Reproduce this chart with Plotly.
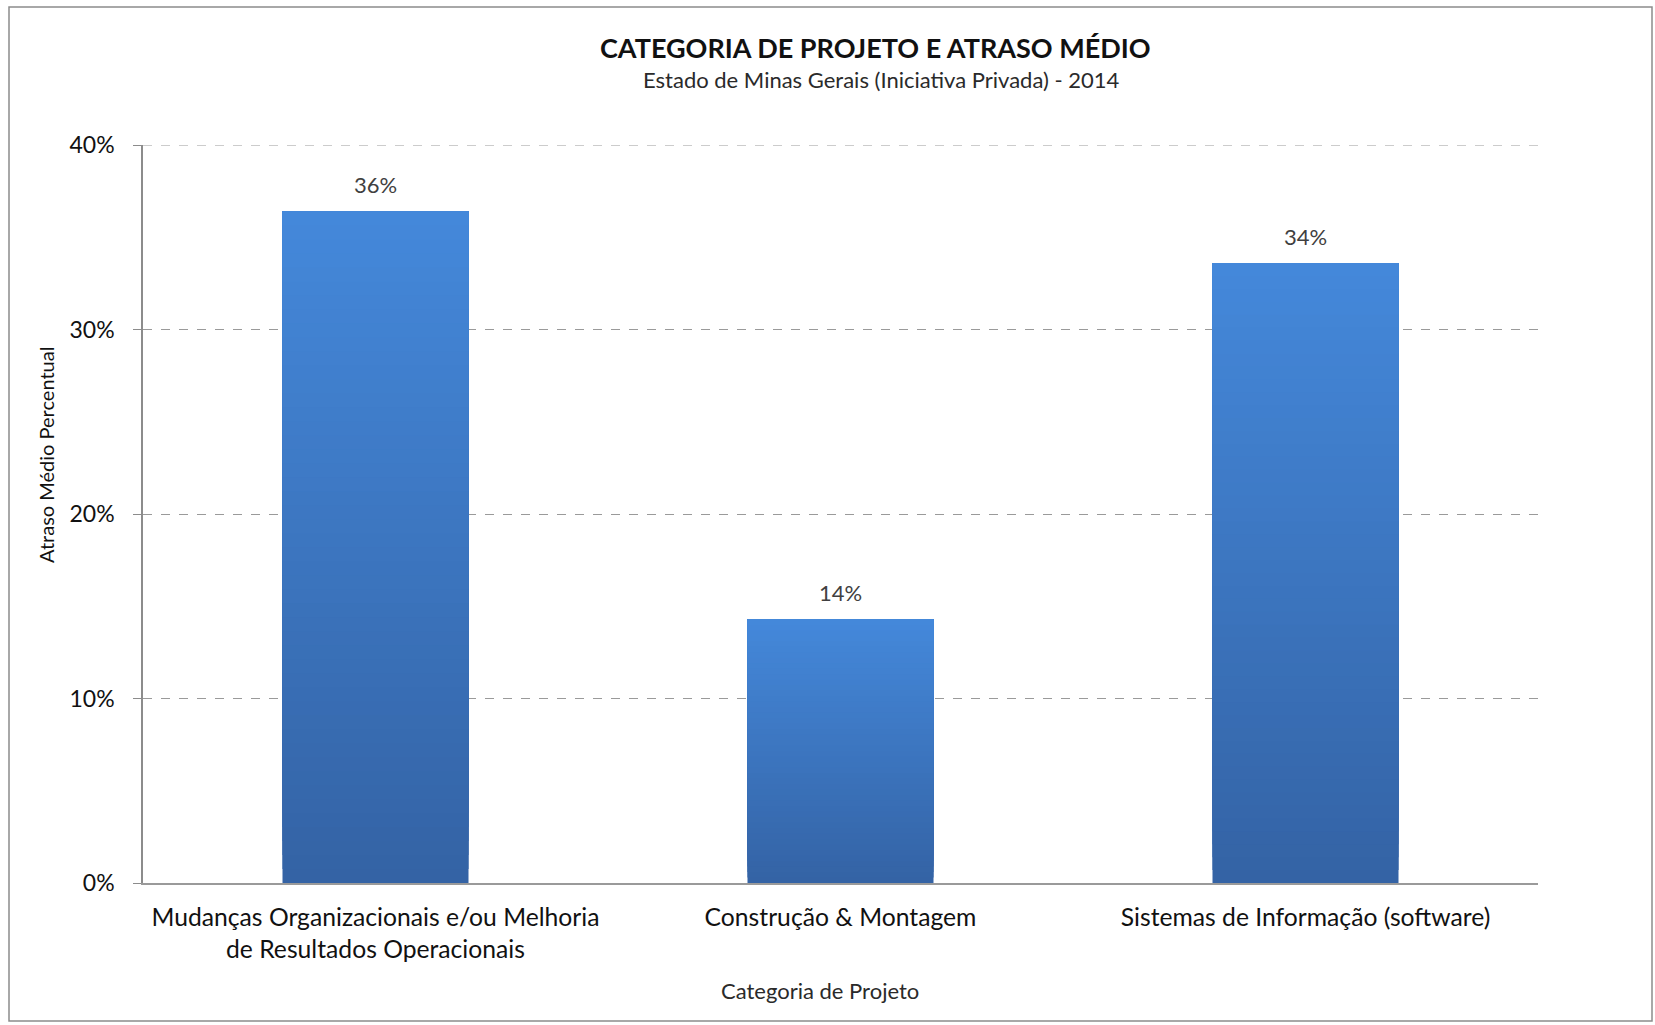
import plotly.graph_objects as go

categories = [
    "Mudanças Organizacionais e/ou Melhoria<br>de Resultados Operacionais",
    "Construção & Montagem",
    "Sistemas de Informação (software)",
]
values = [0.364, 0.143, 0.336]
value_labels = ["36%", "14%", "34%"]
y_ticks = [0, 0.1, 0.2, 0.3, 0.4]
y_tick_labels = ["0%", "10%", "20%", "30%", "40%"]

FONT = "Lato"
W, H = 1655, 1025
L, R, T, B = 143, 117, 145, 142
pw, ph = W - L - R, H - T - B

BOTTOM_RGB = (0x34, 0x63, 0xA5)
TOP_RGB = (0x44, 0x88, 0xDA)
N_SEG = 48

fig = go.Figure()

# gradient fill: overlapping layers, each from a fraction of the bar up to its top
for k in range(N_SEG):
    f = k / (N_SEG - 1)
    col = "rgb({},{},{})".format(*[round(b + (t - b) * f) for b, t in zip(BOTTOM_RGB, TOP_RGB)])
    fig.add_trace(go.Bar(
        x=categories,
        y=[v * (N_SEG - k) / N_SEG for v in values],
        base=[v * k / N_SEG for v in values],
        width=0.4,
        marker=dict(color=col, line=dict(width=0)),
        hoverinfo="skip",
    ))

# full bar (transparent, carries hover)
fig.add_trace(go.Bar(
    x=categories, y=values, width=0.4,
    marker=dict(color="rgba(0,0,0,0)", line=dict(width=0)),
    hovertemplate="%{x}: %{y:.0%}<extra></extra>",
))

annotations = []
for c, v, lab in zip(categories, values, value_labels):
    annotations.append(dict(x=c, y=v, text=lab, showarrow=False, yshift=27,
                            xanchor="center", yanchor="middle",
                            font=dict(family=FONT, size=22, color="#404040")))

def px_x(px):
    return (px - L) / pw

def px_y(py):
    return (H - B - py) / ph

annotations += [
    dict(xref="paper", yref="paper", x=px_x(875), y=px_y(47), xanchor="center", yanchor="middle",
         text="<b>CATEGORIA DE PROJETO E ATRASO MÉDIO</b>",
         showarrow=False, font=dict(family=FONT, size=27, color="#111111")),
    dict(xref="paper", yref="paper", x=px_x(881), y=px_y(79), xanchor="center", yanchor="middle",
         text="Estado de Minas Gerais (Iniciativa Privada) - 2014",
         showarrow=False, font=dict(family=FONT, size=22, color="#2A2A2A")),
    dict(xref="paper", yref="paper", x=px_x(820), y=px_y(991), xanchor="center", yanchor="middle",
         text="Categoria de Projeto",
         showarrow=False, font=dict(family=FONT, size=22, color="#2A2A2A")),
    dict(xref="paper", yref="paper", x=px_x(46), y=px_y(455), xanchor="center", yanchor="middle",
         text="Atraso Médio Percentual", textangle=-90,
         showarrow=False, font=dict(family=FONT, size=20, color="#111111")),
]

shapes = [
    dict(type="rect", xref="paper", yref="paper",
         x0=px_x(9), x1=px_x(1652), y0=px_y(1021), y1=px_y(7),
         line=dict(color="#8C8C8C", width=1.5), layer="below"),
    # top gridline at the axis maximum (Plotly omits it at the range edge)
    dict(type="line", xref="paper", yref="y", x0=0, x1=1, y0=y_ticks[-1], y1=y_ticks[-1],
         line=dict(color="#9A9A9A", width=1, dash="dash"), layer="below"),
]

fig.update_layout(
    width=W, height=H,
    margin=dict(l=L, r=R, t=T, b=B, pad=0),
    paper_bgcolor="white", plot_bgcolor="white",
    showlegend=False,
    barmode="overlay",
    annotations=annotations,
    shapes=shapes,
    font=dict(family=FONT),
)
fig.update_yaxes(
    range=[0, 0.4], tickvals=y_ticks, ticktext=y_tick_labels,
    showgrid=True, gridcolor="#9A9A9A", griddash="dash", gridwidth=1,
    showline=True, linecolor="#8C8C8C", linewidth=1.5,
    ticks="outside", ticklen=8, tickcolor="#8C8C8C",
    ticklabelstandoff=14,
    tickfont=dict(family=FONT, size=23, color="#111111"),
    zeroline=False,
)
fig.update_xaxes(
    showline=True, linecolor="#9A9A9A", linewidth=2,
    ticks="", ticklabelstandoff=11,
    tickfont=dict(family=FONT, size=24.7, color="#111111"),
    showgrid=False,
)

fig.write_html("out.html")
